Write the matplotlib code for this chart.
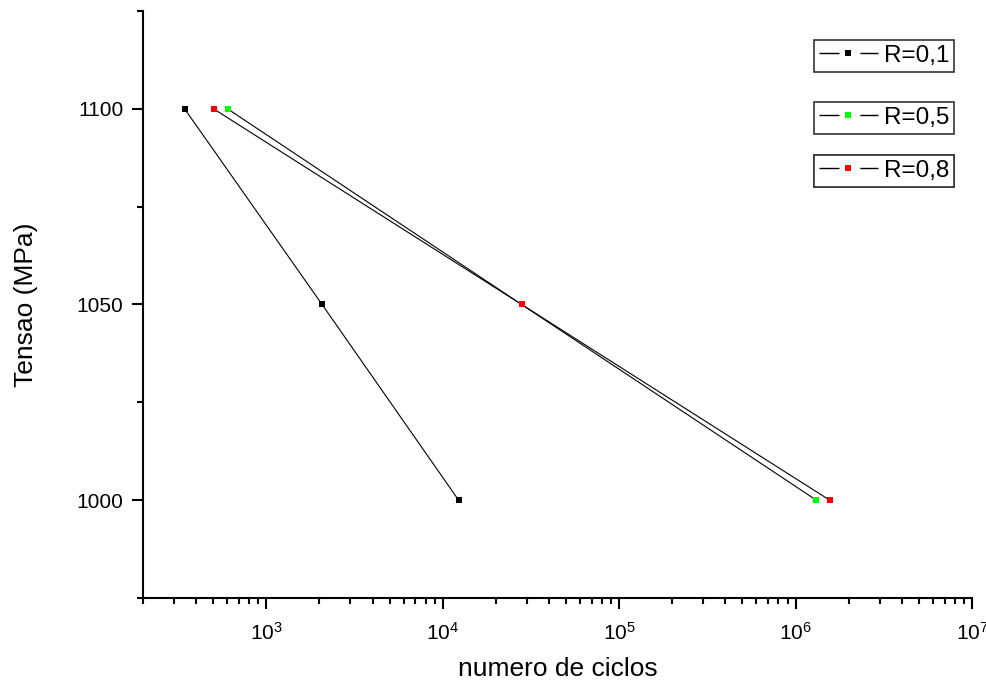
import matplotlib
matplotlib.use("Agg")
import matplotlib.pyplot as plt
from matplotlib.lines import Line2D

plt.rcParams["font.family"] = ["Liberation Sans", "DejaVu Sans"]

# Dados
tensao = [1100, 1050, 1000]
ciclos_r01 = [344, 2070, 12300]
ciclos_r05 = [603, 28000, 1.31e6]
ciclos_r08 = [502, 28000, 1.56e6]

series = [
    ("R=0,1", ciclos_r01, "#000000"),
    ("R=0,5", ciclos_r05, "#00ff00"),
    ("R=0,8", ciclos_r08, "#ff0000"),
]
legend_tops = [0.9506, 0.845, 0.7547]

fig = plt.figure(figsize=(9.87, 6.86), dpi=100)
ax = fig.add_axes([0.1449, 0.1283, 0.8399, 0.8557])

for nome, ciclos, cor in series:
    ax.plot(ciclos, tensao, color="black", linewidth=0.8, zorder=2)
    ax.plot(ciclos, tensao, linestyle="none", marker="s", markersize=5,
            markerfacecolor=cor, markeredgewidth=0, zorder=3)

ax.set_xscale("log")
ax.set_xlim(200, 1e7)
ax.set_ylim(975, 1125)
ax.set_yticks([1000, 1050, 1100])
ax.set_yticks([975, 1025, 1075, 1125], minor=True)

for lado in ("top", "right"):
    ax.spines[lado].set_visible(False)
for lado in ("left", "bottom"):
    ax.spines[lado].set_linewidth(1.5)

ax.tick_params(which="major", direction="out", length=8, width=1.5,
               labelsize=15, pad=6)
ax.tick_params(axis="x", which="major", pad=9)
ax.tick_params(which="minor", direction="out", length=4.5, width=1.5)

ax.set_xlabel("numero de ciclos", fontsize=19, labelpad=10)
ax.set_ylabel("Tensao (MPa)", fontsize=19, labelpad=28)

# Legendas separadas, uma caixa por série
for (nome, ciclos, cor), topo in zip(series, legend_tops):
    linha = Line2D([], [], color="black", linewidth=1, dashes=(14.4, 15, 13, 0))
    marca = Line2D([], [], linestyle="none", marker="s", markersize=5,
                   markerfacecolor=cor, markeredgewidth=0)
    leg = ax.legend([(linha, marca)], [nome], loc="upper left",
                    bbox_to_anchor=(0.8094, topo), borderaxespad=0,
                    fontsize=17.5, handlelength=2.43, handletextpad=0.25,
                    borderpad=0.2, fancybox=False, framealpha=1,
                    edgecolor="#333333")
    leg.get_frame().set_linewidth(1.2)
    ax.add_artist(leg)

fig.savefig("out.png", dpi=100)
